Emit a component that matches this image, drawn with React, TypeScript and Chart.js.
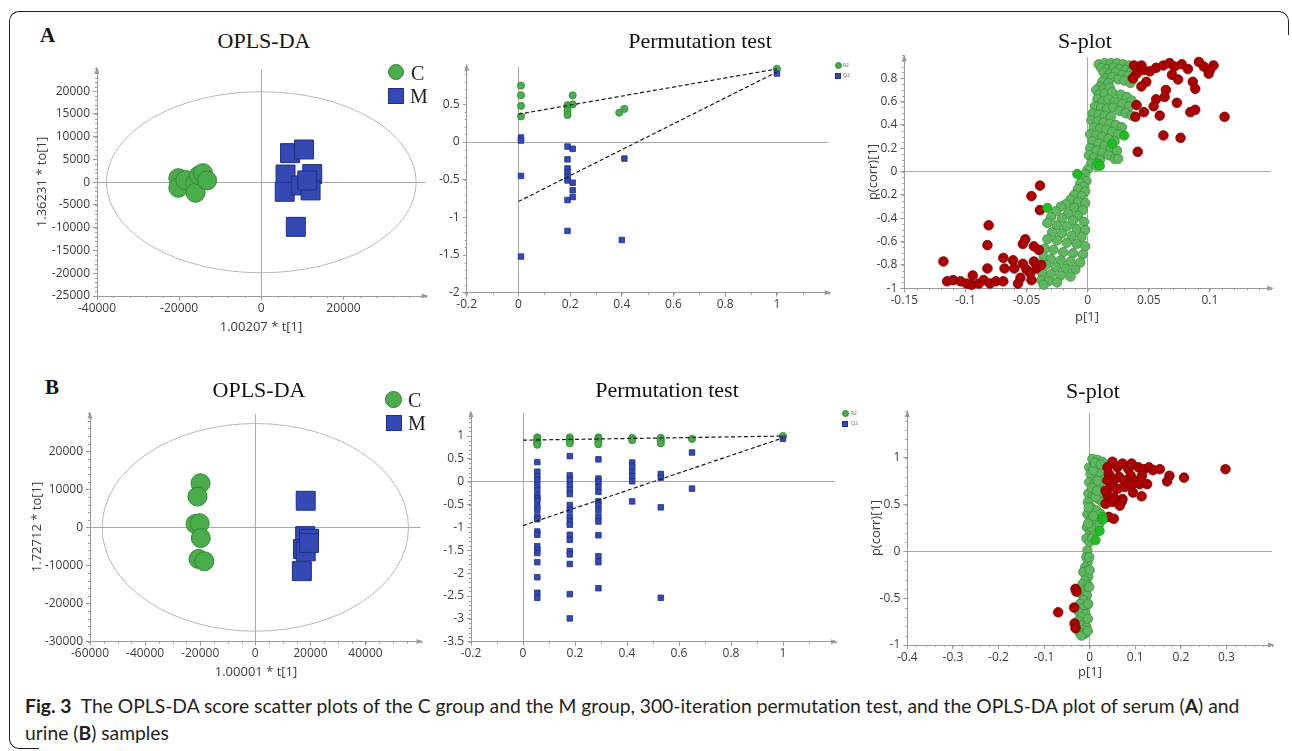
import React, { useEffect, useRef } from "react";
import { Chart, registerables } from "chart.js";

Chart.register(...registerables);

type Pt = [number, number];

// ---------------- Panel A (serum) ----------------
const scoreA_C: Pt[] = [
  [-20200, 900], [-20200, -1200], [-18500, 500], [-16100, -200], [-16000, -2300],
  [-15200, 1500], [-14200, 2000], [-13200, 400],
];
const scoreA_M: Pt[] = [
  [7000, 6400], [10400, 7200], [5900, 1700], [12400, 1800], [5700, -2100],
  [9600, -700], [12000, -1800], [11200, 400], [8400, -9800],
];
const scoreA_ellipse: Pt = [37700, 19900];
const scoreA_xTicks = [-40000, -20000, 0, 20000];
const scoreA_yTicks = [-25000, -20000, -15000, -10000, -5000, 0, 5000, 10000, 15000, 20000];

const permA_R2: Pt[] = [
  [0.01, 0.75], [0.01, 0.62], [0.01, 0.48], [0.01, 0.34], [0.19, 0.49], [0.19, 0.46],
  [0.19, 0.42], [0.19, 0.36], [0.21, 0.62], [0.21, 0.5], [0.39, 0.39], [0.41, 0.44], [1, 0.97],
];
const permA_Q2: Pt[] = [
  [0.01, 0.06], [0.01, 0.02], [0.01, -0.45], [0.01, -1.52], [0.19, -0.06], [0.21, -0.09],
  [0.19, -0.23], [0.19, -0.35], [0.19, -0.4], [0.19, -0.46], [0.19, -0.51], [0.21, -0.54],
  [0.21, -0.64], [0.21, -0.73], [0.19, -0.77], [0.19, -1.18], [0.41, -0.22], [0.4, -1.3], [1, 0.91],
];
const permA_R2line: Pt[] = [[0, 0.37], [1, 0.97]];
const permA_Q2line: Pt[] = [[0, -0.79], [1, 0.93]];
const permA_xTicks = [-0.2, 0, 0.2, 0.4, 0.6, 0.8, 1];
const permA_yTicks = [-2, -1.5, -1, -0.5, 0, 0.5];

const splotA_green: Pt[] = [
  [0.009, 0.92], [0.014, 0.93], [0.019, 0.93], [0.024, 0.93], [0.029, 0.92], [0.034, 0.91],
  [0.011, 0.89], [0.016, 0.88], [0.021, 0.89], [0.026, 0.88], [0.031, 0.87], [0.036, 0.86],
  [0.013, 0.85], [0.018, 0.84], [0.023, 0.85], [0.028, 0.83], [0.033, 0.82], [0.037, 0.79],
  [0.015, 0.8], [0.02, 0.81], [0.025, 0.79], [0.03, 0.78], [0.035, 0.76], [0.012, 0.77], [0.017, 0.76],
  [0.01, 0.73], [0.007, 0.7], [0.013, 0.71], [0.018, 0.72], [0.009, 0.66], [0.014, 0.67],
  [0.02, 0.68], [0.027, 0.66], [0.032, 0.64], [0.036, 0.61], [0.008, 0.62], [0.012, 0.6],
  [0.017, 0.62], [0.022, 0.6], [0.028, 0.58], [0.034, 0.56], [0.006, 0.56], [0.011, 0.55],
  [0.016, 0.54], [0.021, 0.55], [0.026, 0.52], [0.031, 0.5], [0.036, 0.48], [0.004, 0.5],
  [0.009, 0.49], [0.014, 0.48], [0.019, 0.47],
  [0.003, 0.44], [0.008, 0.43], [0.013, 0.42], [0.018, 0.41], [0.023, 0.4], [0.028, 0.38],
  [0.005, 0.38], [0.01, 0.37], [0.015, 0.36], [0.02, 0.34], [0.025, 0.32], [0.002, 0.32],
  [0.007, 0.31], [0.012, 0.3], [0.017, 0.28], [0.022, 0.26], [0.004, 0.26], [0.009, 0.24],
  [0.014, 0.22], [0.019, 0.2], [0.024, 0.18], [0.002, 0.2], [0.007, 0.18], [0.012, 0.16],
  [0.017, 0.14], [0.022, 0.11], [0.025, 0.11], [0.001, 0.14], [0.005, 0.12], [0.01, 0.1],
  [0.003, 0.07], [0.007, 0.05], [0.0, 0.02],
  [-0.002, -0.02], [-0.004, -0.06], [-0.001, -0.08], [-0.006, -0.1], [-0.003, -0.13],
  [-0.008, -0.15], [-0.002, -0.17], [-0.011, -0.2], [-0.005, -0.21], [-0.014, -0.24],
  [-0.008, -0.26], [-0.002, -0.27], [-0.018, -0.28], [-0.022, -0.3], [-0.011, -0.31],
  [-0.004, -0.33], [-0.026, -0.34], [-0.016, -0.36], [-0.008, -0.38], [-0.03, -0.39],
  [-0.021, -0.4], [-0.012, -0.42], [-0.003, -0.43], [-0.033, -0.44], [-0.025, -0.46],
  [-0.017, -0.47], [-0.009, -0.49], [-0.002, -0.5], [-0.029, -0.52], [-0.021, -0.53],
  [-0.013, -0.55], [-0.005, -0.56], [-0.033, -0.58], [-0.025, -0.59], [-0.017, -0.61],
  [-0.009, -0.62], [-0.002, -0.64], [-0.035, -0.66], [-0.028, -0.67], [-0.02, -0.69],
  [-0.012, -0.7], [-0.004, -0.71], [-0.036, -0.73], [-0.03, -0.75], [-0.022, -0.76],
  [-0.014, -0.77], [-0.006, -0.78], [-0.034, -0.8], [-0.026, -0.82], [-0.018, -0.83],
  [-0.01, -0.84], [-0.037, -0.87], [-0.03, -0.88], [-0.022, -0.89], [-0.014, -0.9],
  [-0.038, -0.93], [-0.032, -0.94], [-0.025, -0.95], [-0.036, -0.97],
];
const splotA_red: Pt[] = [
  [0.038, 0.91], [0.044, 0.91], [0.04, 0.84], [0.046, 0.87], [0.051, 0.86], [0.056, 0.89],
  [0.062, 0.91], [0.067, 0.93], [0.071, 0.9], [0.077, 0.92], [0.082, 0.88], [0.069, 0.83],
  [0.074, 0.79], [0.086, 0.77], [0.091, 0.94], [0.095, 0.9], [0.099, 0.84], [0.103, 0.91],
  [0.1, 0.87], [0.088, 0.71], [0.037, 0.8], [0.048, 0.77], [0.044, 0.73], [0.064, 0.7],
  [0.056, 0.62], [0.063, 0.64], [0.054, 0.56], [0.04, 0.57], [0.046, 0.51], [0.039, 0.47],
  [0.073, 0.59], [0.059, 0.48], [0.084, 0.51], [0.088, 0.53], [0.112, 0.47], [0.062, 0.31],
  [0.076, 0.29], [0.041, 0.17],
  [-0.039, -0.12], [-0.046, -0.21], [-0.039, -0.33], [-0.081, -0.46], [-0.051, -0.58],
  [-0.053, -0.62], [-0.082, -0.63], [-0.044, -0.64], [-0.04, -0.67], [-0.069, -0.74],
  [-0.118, -0.77], [-0.061, -0.76], [-0.053, -0.79], [-0.044, -0.77], [-0.082, -0.83],
  [-0.068, -0.83], [-0.06, -0.83], [-0.05, -0.84], [-0.042, -0.83], [-0.038, -0.8],
  [-0.055, -0.91], [-0.046, -0.93], [-0.115, -0.94], [-0.11, -0.93], [-0.104, -0.94],
  [-0.099, -0.96], [-0.094, -0.89], [-0.095, -0.97], [-0.089, -0.96], [-0.085, -0.93],
  [-0.08, -0.96], [-0.075, -0.94], [-0.069, -0.94], [-0.057, -0.96], [-0.047, -0.87],
];
const splotA_lime: Pt[] = [
  [0.03, 0.31], [0.02, 0.24], [0.008, 0.07], [0.01, 0.05], [-0.0085, -0.02], [-0.033, -0.31],
];
const splotA_xTicks = [-0.15, -0.1, -0.05, 0, 0.05, 0.1];
const splotA_yTicks = [-1, -0.8, -0.6, -0.4, -0.2, 0, 0.2, 0.4, 0.6, 0.8];

// ---------------- Panel B (urine) ----------------
const scoreB_C: Pt[] = [
  [-19900, 11600], [-21000, 8100], [-21700, 900], [-20200, 1100], [-19800, -2800],
  [-20600, -8300], [-18500, -8900],
];
const scoreB_M: Pt[] = [
  [18300, 7000], [18100, -2300], [19500, -3000], [17300, -5700], [18300, -6300],
  [16900, -11500], [19500, -4100],
];
const scoreB_ellipse: Pt = [55600, 27300];
const scoreB_xTicks = [-60000, -40000, -20000, 0, 20000, 40000];
const scoreB_yTicks = [-30000, -20000, -10000, 0, 10000, 20000];

const permB_R2: Pt[] = [
  [0.055, 0.97], [0.055, 0.93], [0.055, 0.88], [0.055, 0.84], [0.055, 0.81],
  [0.18, 0.97], [0.18, 0.92], [0.18, 0.88], [0.18, 0.84],
  [0.29, 0.97], [0.29, 0.93], [0.29, 0.87], [0.29, 0.82],
  [0.42, 0.96], [0.42, 0.91],
  [0.53, 0.96], [0.53, 0.9], [0.53, 0.84],
  [0.65, 0.94], [1, 1.0],
];
const permB_Q2: Pt[] = [
  [0.055, 0.43], [0.055, 0.22], [0.055, 0.12], [0.055, 0.04], [0.055, -0.07], [0.055, -0.18],
  [0.055, -0.31], [0.055, -0.36], [0.055, -0.41], [0.055, -0.54], [0.055, -0.62], [0.055, -0.76],
  [0.055, -0.82], [0.055, -1.09], [0.055, -1.16], [0.055, -1.41], [0.055, -1.49], [0.055, -1.56],
  [0.055, -1.76], [0.055, -2.09], [0.055, -2.43], [0.055, -2.54],
  [0.18, 0.56], [0.18, 0.14], [0.18, 0.04], [0.18, -0.07], [0.18, -0.18], [0.18, -0.27],
  [0.18, -0.51], [0.18, -0.62], [0.18, -0.76], [0.18, -0.87], [0.18, -0.94], [0.18, -1.16],
  [0.18, -1.27], [0.18, -1.52], [0.18, -1.59], [0.18, -1.8], [0.18, -2.46], [0.18, -2.99],
  [0.29, 0.49], [0.29, 0.07], [0.29, 0.0], [0.29, -0.11], [0.29, -0.22], [0.29, -0.43],
  [0.29, -0.51], [0.29, -0.62], [0.29, -0.76], [0.29, -0.87], [0.29, -1.17], [0.29, -1.63],
  [0.29, -1.76], [0.29, -2.33],
  [0.42, 0.42], [0.42, 0.33], [0.42, 0.22], [0.42, 0.12], [0.42, 0.01], [0.42, -0.43],
  [0.53, 0.17], [0.53, 0.09], [0.53, -0.56], [0.53, -2.54],
  [0.65, 0.64], [0.65, -0.15],
  [1, 0.94],
];
const permB_R2line: Pt[] = [[0, 0.91], [1, 1.0]];
const permB_Q2line: Pt[] = [[0, -0.96], [1, 0.96]];
const permB_xTicks = [-0.2, 0, 0.2, 0.4, 0.6, 0.8, 1];
const permB_yTicks = [-3.5, -3, -2.5, -2, -1.5, -1, -0.5, 0, 0.5, 1];

const splotB_green: Pt[] = [
  [0.006, 0.99], [0.017, 0.98], [0.028, 0.96], [-0.001, 0.9], [0.01, 0.92], [0.02, 0.9],
  [0.031, 0.87], [0.002, 0.83], [0.013, 0.85], [0.024, 0.8], [0.035, 0.78], [-0.001, 0.74],
  [0.01, 0.72], [0.02, 0.71], [0.031, 0.65], [-0.003, 0.62], [0.007, 0.6], [0.019, 0.56],
  [0.028, 0.53], [-0.004, 0.53], [0.004, 0.47], [0.015, 0.44], [0.024, 0.4], [-0.005, 0.4],
  [0.003, 0.35], [0.012, 0.31], [0.02, 0.28], [-0.006, 0.26], [0.001, 0.21], [0.01, 0.19],
  [-0.007, 0.14], [0.0, 0.1], [0.006, 0.14], [0.003, 0.26], [0.013, 0.58], [0.017, 0.76],
  [0.022, 0.85], [0.008, 0.87], [0.012, 0.95], [0.024, 0.93], [0.005, 0.68], [0.016, 0.65],
  [-0.002, 0.47], [0.008, 0.38], [-0.003, 0.3],
  [-0.005, 0.01], [-0.007, -0.06], [-0.004, -0.11], [-0.01, -0.17], [-0.006, -0.2],
  [-0.014, -0.22], [-0.003, -0.27], [-0.01, -0.31], [-0.016, -0.35], [-0.004, -0.36],
  [-0.012, -0.42], [-0.018, -0.45], [-0.006, -0.47], [-0.014, -0.52], [-0.021, -0.56],
  [-0.007, -0.58], [-0.016, -0.61], [-0.023, -0.65], [-0.009, -0.67], [-0.018, -0.7],
  [-0.025, -0.74], [-0.011, -0.76], [-0.02, -0.79], [-0.007, -0.81], [-0.016, -0.84],
  [-0.023, -0.86], [-0.01, -0.88], [-0.018, -0.9], [-0.001, -0.06], [0.0, -0.2],
  [-0.001, -0.38], [-0.003, -0.56], [-0.004, -0.72], [-0.004, -0.85],
];
const splotB_red: Pt[] = [
  [0.05, 0.96], [0.061, 0.9], [0.072, 0.94], [0.085, 0.88], [0.092, 0.94], [0.107, 0.9],
  [0.119, 0.88], [0.13, 0.9], [0.139, 0.87], [0.154, 0.88], [0.175, 0.81], [0.17, 0.75],
  [0.207, 0.79], [0.298, 0.88], [0.042, 0.83], [0.053, 0.76], [0.064, 0.8], [0.075, 0.76],
  [0.09, 0.81], [0.099, 0.76], [0.11, 0.72], [0.126, 0.72], [0.115, 0.81], [0.046, 0.69],
  [0.061, 0.67], [0.077, 0.69], [0.092, 0.71], [0.039, 0.6], [0.053, 0.58], [0.072, 0.56],
  [0.095, 0.63], [0.114, 0.59], [0.035, 0.51], [0.05, 0.53], [0.07, 0.53], [0.066, 0.49],
  [0.042, 0.37], [0.053, 0.35], [0.039, 0.9], [0.039, 0.76], [0.035, 0.65],
  [-0.069, -0.65], [-0.031, -0.4], [-0.029, -0.43], [-0.034, -0.6], [-0.033, -0.77], [-0.031, -0.82],
];
const splotB_lime: Pt[] = [[0.028, 0.37], [0.029, 0.34], [0.022, 0.22], [0.013, 0.12]];
const splotB_xTicks = [-0.4, -0.3, -0.2, -0.1, 0, 0.1, 0.2, 0.3];
const splotB_yTicks = [-1, -0.5, 0, 0.5, 1];

// ---------------- styles ----------------
const GREEN = "#4aac4a";
const GREEN_EDGE = "#2f8a33";
const BLUE = "#3449b4";
const BLUE_EDGE = "#1e2e8c";
const SGREEN = "#5fb760";
const SGREEN_EDGE = "#3b8f3d";
const RED = "#ad0000";
const RED_EDGE = "#7a0000";
const LIME = "#1fbf24";
const LIME_EDGE = "#169a1a";

interface PanelSpec {
  left: number; top: number; width: number; height: number;
  yAxisWidth: number; xAxisHeight: number; padTop: number; padRight: number;
  xMin: number; xMax: number; yMin: number; yMax: number;
  xTicks: number[]; yTicks: number[];
  xMinor: number; yMinor: number;
  ellipse?: Pt;
  datasets: any[];
}

const toXY = (a: Pt[]) => a.map(([x, y]) => ({ x, y }));

const scatterSet = (label: string, data: Pt[], pointStyle: string, radius: number, bg: string, edge: string, bw = 1) => ({
  label,
  data: toXY(data),
  pointStyle,
  pointRadius: radius,
  pointHoverRadius: radius,
  backgroundColor: bg,
  borderColor: edge,
  pointBorderWidth: bw,
  borderWidth: bw,
  showLine: false,
  clip: false,
});

const lineSet = (label: string, data: Pt[]) => ({
  label,
  data: toXY(data),
  showLine: true,
  borderColor: "#1a1a1a",
  borderWidth: 1.2,
  borderDash: [4, 2.5],
  pointRadius: 0,
  fill: false,
  clip: false,
});

function decorPlugin(s: PanelSpec) {
  return {
    id: "decor",
    beforeDatasetsDraw(chart: any) {
      if (!s.ellipse) return;
      const { ctx, scales } = chart;
      const x = scales.x, y = scales.y;
      const cx = x.getPixelForValue(0);
      const cy = y.getPixelForValue(0);
      const rx = x.getPixelForValue(s.ellipse[0]) - cx;
      const ry = cy - y.getPixelForValue(s.ellipse[1]);
      ctx.save();
      ctx.strokeStyle = "#b8b8b8";
      ctx.lineWidth = 1;
      ctx.beginPath();
      ctx.ellipse(cx, cy, rx, ry, 0, 0, Math.PI * 2);
      ctx.stroke();
      ctx.restore();
    },
    afterDraw(chart: any) {
      const { ctx, chartArea: a, scales } = chart;
      const x = scales.x, y = scales.y;
      ctx.save();
      ctx.strokeStyle = "#9a9a9a";
      ctx.lineWidth = 1;
      ctx.beginPath();
      const nx = Math.round((s.xMax - s.xMin) / s.xMinor);
      for (let i = 0; i <= nx; i++) {
        const px = Math.round(x.getPixelForValue(s.xMin + i * s.xMinor)) + 0.5;
        ctx.moveTo(px, a.bottom);
        ctx.lineTo(px, a.bottom + 2);
      }
      const ny = Math.round((s.yMax - s.yMin) / s.yMinor);
      for (let i = 0; i <= ny; i++) {
        const py = Math.round(y.getPixelForValue(s.yMin + i * s.yMinor)) + 0.5;
        ctx.moveTo(a.left, py);
        ctx.lineTo(a.left - 2, py);
      }
      ctx.stroke();
      ctx.fillStyle = "#9a9a9a";
      ctx.beginPath();
      ctx.moveTo(a.left, a.top - 3);
      ctx.lineTo(a.left - 2.5, a.top + 4);
      ctx.lineTo(a.left + 2.5, a.top + 4);
      ctx.closePath();
      ctx.fill();
      ctx.beginPath();
      ctx.moveTo(a.right + 3, a.bottom);
      ctx.lineTo(a.right - 4, a.bottom - 2.5);
      ctx.lineTo(a.right - 4, a.bottom + 2.5);
      ctx.closePath();
      ctx.fill();
      ctx.restore();
    },
  };
}

function buildConfig(s: PanelSpec): any {
  const axis = (min: number, max: number, ticks: number[], isX: boolean) => ({
    type: "linear",
    min,
    max,
    afterBuildTicks: (sc: any) => {
      sc.ticks = ticks.map((v) => ({ value: v }));
    },
    afterFit: (sc: any) => {
      if (isX) sc.height = s.xAxisHeight;
      else sc.width = s.yAxisWidth;
    },
    grid: {
      color: (c: any) => (c.tick && c.tick.value === 0 ? "#a9a9a9" : "rgba(0,0,0,0)"),
      lineWidth: 1,
      drawTicks: true,
      tickLength: 4,
      tickColor: "#9a9a9a",
    },
    border: { display: true, color: "#9a9a9a", width: 1 },
    ticks: {
      autoSkip: false,
      maxRotation: 0,
      minRotation: 0,
      padding: isX ? 1 : 3,
      color: "#3c3c3c",
      font: { family: "Open Sans", size: 12 },
      callback: (v: any) => String(v),
    },
  });
  return {
    type: "scatter",
    data: { datasets: s.datasets },
    options: {
      animation: false,
      responsive: false,
      maintainAspectRatio: false,
      events: [],
      layout: { padding: { top: s.padTop, right: s.padRight, left: 0, bottom: 0 } },
      plugins: { legend: { display: false }, tooltip: { enabled: false }, title: { display: false } },
      scales: {
        x: axis(s.xMin, s.xMax, s.xTicks, true),
        y: axis(s.yMin, s.yMax, s.yTicks, false),
      },
    },
    plugins: [decorPlugin(s)],
  };
}

const panels: PanelSpec[] = [
  {
    left: 20, top: 55, width: 420, height: 265, yAxisWidth: 77, xAxisHeight: 24, padTop: 12, padRight: 12,
    xMin: -40000, xMax: 40000, yMin: -25000, yMax: 24800, xTicks: scoreA_xTicks, yTicks: scoreA_yTicks,
    xMinor: 4000, yMinor: 1000, ellipse: scoreA_ellipse,
    datasets: [
      scatterSet("M", scoreA_M, "rect", 13.4, BLUE, BLUE_EDGE),
      scatterSet("C", scoreA_C, "circle", 9.5, GREEN, GREEN_EDGE),
    ],
  },
  {
    left: 436, top: 55, width: 404, height: 265, yAxisWidth: 30.7, xAxisHeight: 27.3, padTop: 11.7, padRight: 11.4,
    xMin: -0.2, xMax: 1.2, yMin: -2, yMax: 1, xTicks: permA_xTicks, yTicks: permA_yTicks,
    xMinor: 0.1, yMinor: 0.1,
    datasets: [
      lineSet("R2 fit", permA_R2line),
      lineSet("Q2 fit", permA_Q2line),
      scatterSet("Q2", permA_Q2, "rect", 3.9, BLUE, BLUE_EDGE, 0.8),
      scatterSet("R2", permA_R2, "circle", 3.6, GREEN, GREEN_EDGE, 0.8),
    ],
  },
  {
    left: 860, top: 45, width: 425, height: 265, yAxisWidth: 44.3, xAxisHeight: 21.7, padTop: 12.3, padRight: 14,
    xMin: -0.15, xMax: 0.15, yMin: -1, yMax: 0.98, xTicks: splotA_xTicks, yTicks: splotA_yTicks,
    xMinor: 0.01, yMinor: 0.05,
    datasets: [
      scatterSet("lime", splotA_lime, "circle", 4.6, LIME, LIME_EDGE, 0.8),
      scatterSet("red", splotA_red, "circle", 4.8, RED, RED_EDGE, 0.8),
      scatterSet("green", splotA_green, "circle", 4.7, SGREEN, SGREEN_EDGE, 0.8),
    ],
  },
  {
    left: 20, top: 400, width: 415, height: 265, yAxisWidth: 70, xAxisHeight: 23.5, padTop: 12.7, padRight: 13,
    xMin: -60000, xMax: 60000, yMin: -30000, yMax: 29700, xTicks: scoreB_xTicks, yTicks: scoreB_yTicks,
    xMinor: 5000, yMinor: 2000, ellipse: scoreB_ellipse,
    datasets: [
      scatterSet("M", scoreB_M, "rect", 13.4, BLUE, BLUE_EDGE),
      scatterSet("C", scoreB_C, "circle", 9.5, GREEN, GREEN_EDGE),
    ],
  },
  {
    left: 436, top: 400, width: 410, height: 265, yAxisWidth: 35, xAxisHeight: 23.3, padTop: 13.2, padRight: 11,
    xMin: -0.2, xMax: 1.2, yMin: -3.5, yMax: 1.5, xTicks: permB_xTicks, yTicks: permB_yTicks,
    xMinor: 0.1, yMinor: 0.1,
    datasets: [
      lineSet("R2 fit", permB_R2line),
      lineSet("Q2 fit", permB_Q2line),
      scatterSet("Q2", permB_Q2, "rect", 3.9, BLUE, BLUE_EDGE, 0.8),
      scatterSet("R2", permB_R2, "circle", 3.6, GREEN, GREEN_EDGE, 0.8),
    ],
  },
  {
    left: 860, top: 400, width: 425, height: 265, yAxisWidth: 47.3, xAxisHeight: 20, padTop: 13.1, padRight: 13,
    xMin: -0.4, xMax: 0.4, yMin: -1, yMax: 1.48, xTicks: splotB_xTicks, yTicks: splotB_yTicks,
    xMinor: 0.02, yMinor: 0.1,
    datasets: [
      scatterSet("lime", splotB_lime, "circle", 4.6, LIME, LIME_EDGE, 0.8),
      scatterSet("red", splotB_red, "circle", 4.8, RED, RED_EDGE, 0.8),
      scatterSet("green", splotB_green, "circle", 4.7, SGREEN, SGREEN_EDGE, 0.8),
    ],
  },
];

function PanelChart({ spec }: { spec: PanelSpec }) {
  const ref = useRef<HTMLCanvasElement>(null);
  useEffect(() => {
    const chart = new Chart(ref.current as HTMLCanvasElement, buildConfig(spec));
    return () => chart.destroy();
  }, [spec]);
  return (
    <canvas
      ref={ref}
      width={spec.width}
      height={spec.height}
      style={{ position: "absolute", left: spec.left, top: spec.top, width: spec.width, height: spec.height }}
    />
  );
}

function T(props: {
  x: number; y: number; size: number; family?: string; weight?: number | string;
  color?: string; rotate?: boolean; align?: "center" | "left"; children: React.ReactNode;
}) {
  const { x, y, size, family = "Open Sans", weight = 400, color = "#3c3c3c", rotate, align = "center" } = props;
  const tx = align === "center" ? "-50%" : "0";
  return (
    <div
      style={{
        position: "absolute", left: x, top: y, fontSize: size, lineHeight: `${size}px`, fontFamily: family,
        fontWeight: weight as any, color, whiteSpace: "nowrap",
        transform: `translate(${tx},-50%)${rotate ? " rotate(-90deg)" : ""}`,
      }}
    >
      {props.children}
    </div>
  );
}

const SERIF = "'Liberation Serif', 'Times New Roman', serif";

function Marker({ x, y, d, round, color, edge }: { x: number; y: number; d: number; round: boolean; color: string; edge: string }) {
  return (
    <div
      style={{
        position: "absolute", left: x - d / 2, top: y - d / 2, width: d, height: d, boxSizing: "border-box",
        background: color, border: `1px solid ${edge}`, borderRadius: round ? "50%" : 0,
      }}
    />
  );
}

export default function App() {
  return (
    <div style={{ position: "absolute", left: 0, top: 0, width: 1292, height: 751, overflow: "hidden", background: "#fff" }}>
      {/* frame */}
      <div style={{ position: "absolute", left: 9, top: 11, width: 1280, height: 24, borderTop: "1px solid #222", borderLeft: "1px solid #222", borderRight: "1px solid #222", borderTopLeftRadius: 10, borderTopRightRadius: 10, boxSizing: "border-box" }} />
      <div style={{ position: "absolute", left: 9, top: 35, width: 1, height: 703, background: "#222" }} />
      <div style={{ position: "absolute", left: 9, top: 728, width: 30, height: 21, borderLeft: "1px solid #222", borderBottom: "1px solid #222", borderBottomLeftRadius: 10, boxSizing: "border-box" }} />

      {panels.map((p, i) => (
        <PanelChart key={i} spec={p} />
      ))}

      {/* panel letters */}
      <T x={47.5} y={35} size={21} family={SERIF} weight={700} color="#111">A</T>
      <T x={52} y={386.5} size={21} family={SERIF} weight={700} color="#111">B</T>

      {/* titles */}
      <T x={264} y={40.5} size={22} family={SERIF} color="#111">OPLS-DA</T>
      <T x={700} y={40.5} size={22} family={SERIF} color="#111">Permutation test</T>
      <T x={1085} y={40.5} size={22} family={SERIF} color="#111">S-plot</T>
      <T x={259} y={390} size={22} family={SERIF} color="#111">OPLS-DA</T>
      <T x={667} y={390} size={22} family={SERIF} color="#111">Permutation test</T>
      <T x={1093} y={391} size={22} family={SERIF} color="#111">S-plot</T>

      {/* legends, score plots */}
      <Marker x={396} y={72} d={16.5} round color={GREEN} edge={GREEN_EDGE} />
      <T x={411} y={73} size={20} family={SERIF} color="#222" align="left">C</T>
      <Marker x={396} y={96} d={16} round={false} color={BLUE} edge={BLUE_EDGE} />
      <T x={410} y={96} size={20} family={SERIF} color="#222" align="left">M</T>

      <Marker x={393.5} y={399.5} d={16.5} round color={GREEN} edge={GREEN_EDGE} />
      <T x={408} y={400} size={20} family={SERIF} color="#222" align="left">C</T>
      <Marker x={394} y={423} d={16} round={false} color={BLUE} edge={BLUE_EDGE} />
      <T x={408} y={423} size={20} family={SERIF} color="#222" align="left">M</T>

      {/* legends, permutation plots */}
      <Marker x={838} y={65.7} d={7} round color={GREEN} edge={GREEN_EDGE} />
      <T x={843} y={65} size={5} color="#666" align="left">R2</T>
      <Marker x={838} y={75.7} d={6} round={false} color={BLUE} edge={BLUE_EDGE} />
      <T x={843} y={75} size={5} color="#666" align="left">Q2</T>

      <Marker x={845} y={413.3} d={7} round color={GREEN} edge={GREEN_EDGE} />
      <T x={851} y={413} size={5} color="#666" align="left">R2</T>
      <Marker x={845} y={423.7} d={6} round={false} color={BLUE} edge={BLUE_EDGE} />
      <T x={851} y={423} size={5} color="#666" align="left">Q2</T>

      {/* axis titles */}
      <T x={261} y={326} size={13}>1.00207 * t[1]</T>
      <T x={41} y={182} size={13} rotate>1.36231 * to[1]</T>
      <T x={1087} y={316} size={13}>p[1]</T>
      <T x={872} y={172} size={13} rotate>p(corr)[1]</T>
      <T x={256} y={671} size={13}>1.00001 * t[1]</T>
      <T x={36} y={527} size={13} rotate>1.72712 * to[1]</T>
      <T x={1090} y={671} size={13}>p[1]</T>
      <T x={875} y={528} size={13} rotate>p(corr)[1]</T>

      {/* caption */}
      <div style={{ position: "absolute", left: 25, top: 692, fontFamily: "Lato", fontSize: 19.3, lineHeight: "27px", color: "#231f20", whiteSpace: "nowrap", fontVariantLigatures: "none" }}>
        <b>Fig. 3</b>&nbsp;&nbsp;The OPLS-DA score scatter plots of the C group and the M group, 300-iteration permutation test, and the OPLS-DA plot of serum (<b>A</b>) and
        <br />
        urine (<b>B</b>) samples
      </div>
    </div>
  );
}
